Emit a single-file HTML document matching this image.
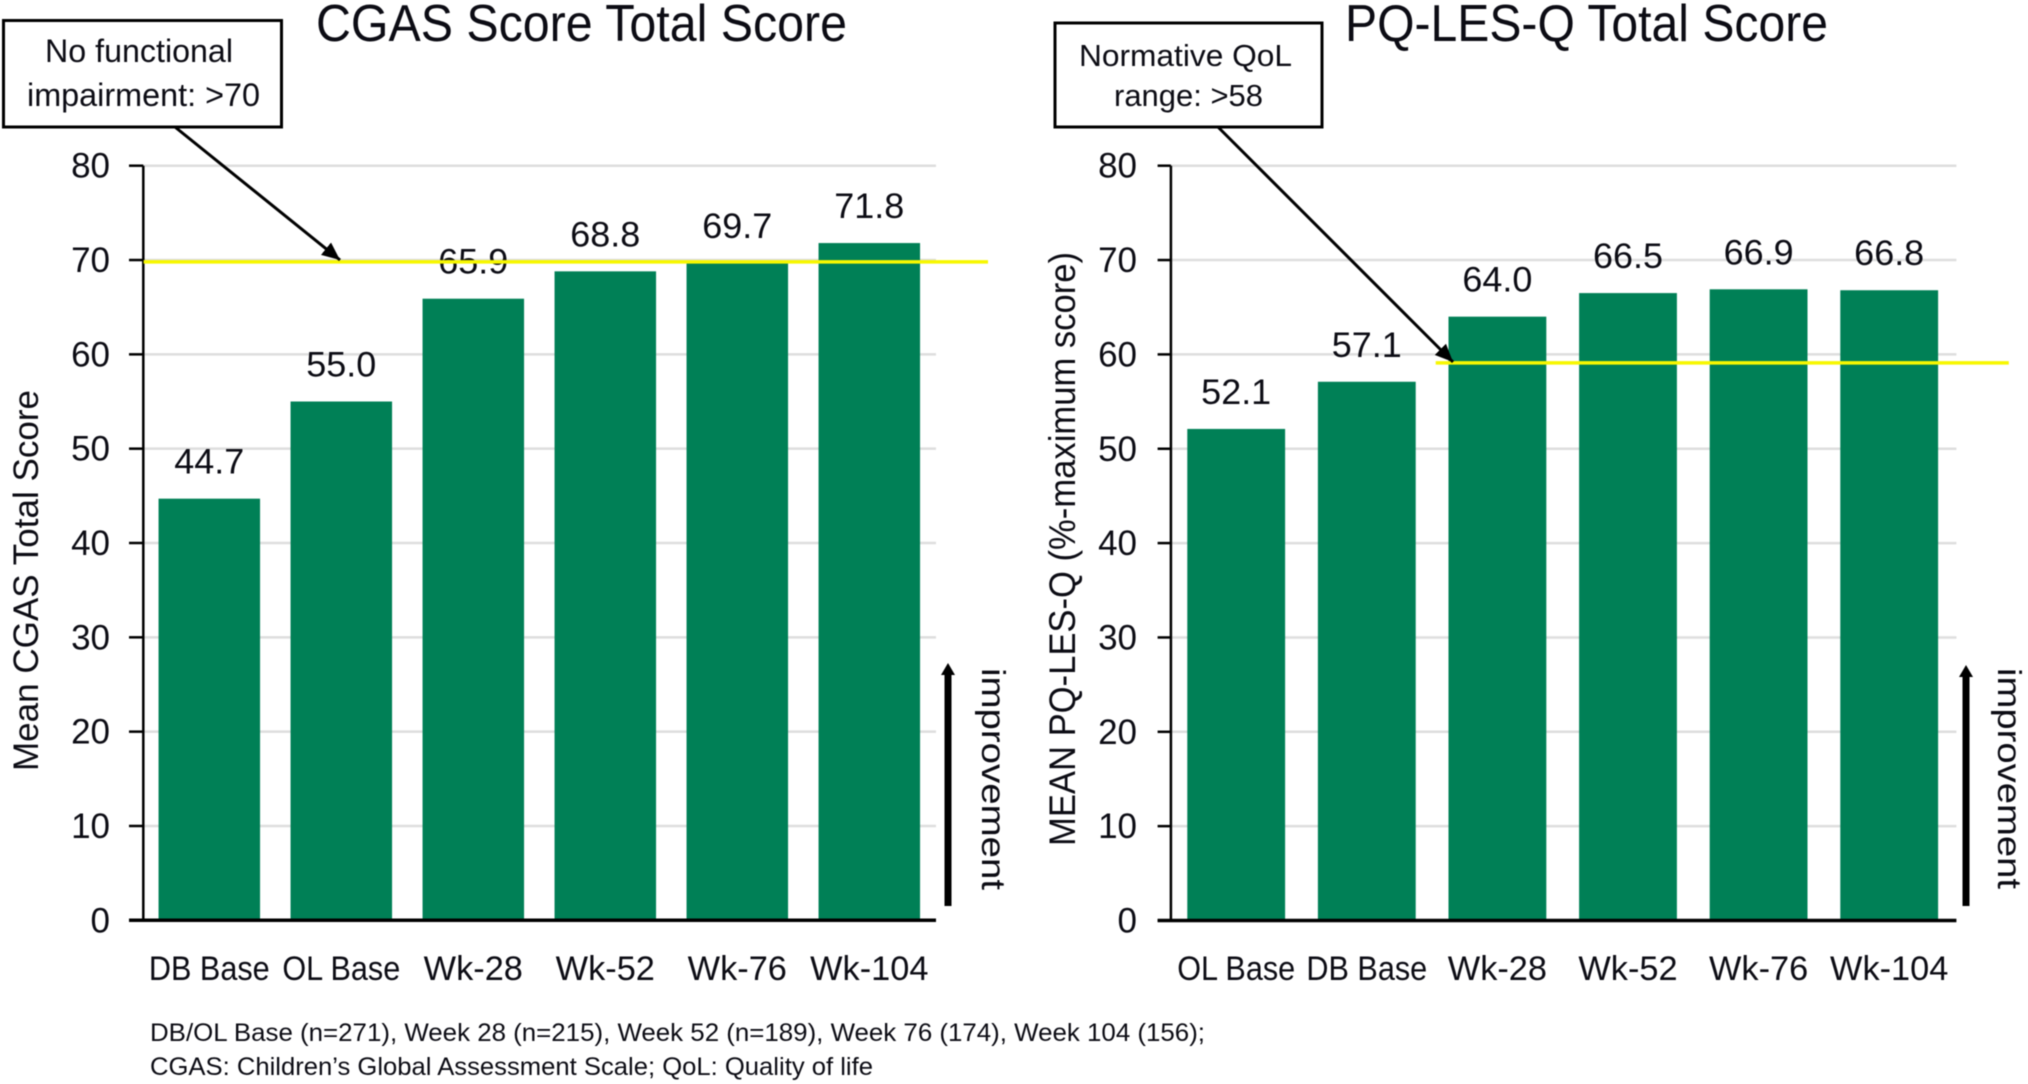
<!DOCTYPE html>
<html>
<head>
<meta charset="utf-8">
<title>CGAS and PQ-LES-Q Total Scores</title>
<style>
html,body{margin:0;padding:0;background:#fff;}
svg{display:block;font-family:"Liberation Sans",sans-serif;fill:#0c0c14;filter:blur(0.45px);}
</style>
</head>
<body>
<svg id="chart" xmlns="http://www.w3.org/2000/svg" width="2028" height="1084" viewBox="0 0 2028 1084">
<defs>
<marker id="head" markerUnits="userSpaceOnUse" markerWidth="20" markerHeight="18" refX="18" refY="9" orient="auto">
<polygon points="0,1 18,9 0,17" fill="#000"></polygon>
</marker>
</defs>
<g id="left-chart"></g>
<g id="right-chart"></g>

<text x="316" y="41" font-size="52" textLength="531" lengthAdjust="spacingAndGlyphs">CGAS Score Total Score</text>
<text x="1345" y="41" font-size="52" textLength="483" lengthAdjust="spacingAndGlyphs">PQ-LES-Q Total Score</text>

<text transform="translate(38,771) rotate(-90)" font-size="35" textLength="381" lengthAdjust="spacingAndGlyphs">Mean CGAS Total Score</text>
<text transform="translate(1075,846) rotate(-90)" font-size="37" textLength="594" lengthAdjust="spacingAndGlyphs">MEAN PQ-LES-Q (%-maximum score)</text>

<line x1="175" y1="127" x2="340" y2="260" stroke="#000" stroke-width="3" marker-end="url(#head)"></line>
<line x1="1218" y1="127" x2="1453" y2="362" stroke="#000" stroke-width="3" marker-end="url(#head)"></line>

<g>
<rect x="3.5" y="20.5" width="278" height="106.5" fill="#fff" stroke="#000" stroke-width="3"></rect>
<text x="45" y="62" font-size="32" textLength="188" lengthAdjust="spacingAndGlyphs">No functional</text>
<text x="27" y="106" font-size="32" textLength="233" lengthAdjust="spacingAndGlyphs">impairment: &gt;70</text>
</g>
<g>
<rect x="1055" y="23" width="267" height="104" fill="#fff" stroke="#000" stroke-width="3"></rect>
<text x="1079" y="66" font-size="31" textLength="213" lengthAdjust="spacingAndGlyphs">Normative QoL</text>
<text x="1114" y="106" font-size="31" textLength="149" lengthAdjust="spacingAndGlyphs">range: &gt;58</text>
</g>

<g>
<line x1="948" y1="906" x2="948" y2="672" stroke="#000" stroke-width="7"></line>
<polygon points="948,663 941,675 955,675" fill="#000"></polygon>
<text transform="translate(982,668) rotate(90)" font-size="33" textLength="222" lengthAdjust="spacingAndGlyphs">improvement</text>
</g>
<g>
<line x1="1966" y1="906" x2="1966" y2="674" stroke="#000" stroke-width="7"></line>
<polygon points="1966,665 1959,677 1973,677" fill="#000"></polygon>
<text transform="translate(1998,668) rotate(90)" font-size="33" textLength="221" lengthAdjust="spacingAndGlyphs">improvement</text>
</g>

<text x="150" y="1041" font-size="25" textLength="1055" lengthAdjust="spacingAndGlyphs">DB/OL Base (n=271), Week 28 (n=215), Week 52 (n=189), Week 76 (174), Week 104 (156);</text>
<text x="150" y="1075" font-size="25" textLength="723" lengthAdjust="spacingAndGlyphs">CGAS: Children’s Global Assessment Scale;  QoL: Quality of life</text>
</svg>

<script>
const yTicks = [0, 10, 20, 30, 40, 50, 60, 70, 80];
const cgasCategories = ['DB Base', 'OL Base', 'Wk-28', 'Wk-52', 'Wk-76', 'Wk-104'];
const cgasValues = [44.7, 55.0, 65.9, 68.8, 69.7, 71.8];
const cgasThreshold = 69.8;
const pqCategories = ['OL Base', 'DB Base', 'Wk-28', 'Wk-52', 'Wk-76', 'Wk-104'];
const pqValues = [52.1, 57.1, 64.0, 66.5, 66.9, 66.8];
const pqThreshold = 59.1;

const NS = 'http://www.w3.org/2000/svg';
const BAR_COLOR = '#008056';
const GRID_COLOR = '#dedede';
const YELLOW = '#f7f700';

function make(parent, tag, attrs, text) {
  const el = document.createElementNS(NS, tag);
  for (const k in attrs) el.setAttribute(k, attrs[k]);
  if (text !== undefined) el.textContent = text;
  parent.appendChild(el);
  return el;
}

function fitCategoryLabel(el, label) {
  const natural = el.getComputedTextLength();
  const scale = label.indexOf('Base') >= 0 ? 0.90 : 1.01;
  el.setAttribute('textLength', (natural * scale).toFixed(1));
  el.setAttribute('lengthAdjust', 'spacingAndGlyphs');
}

function drawChart(root, cfg) {
  const yScale = function (v) {
    return cfg.yZero - v * (cfg.yZero - cfg.yTop) / yTicks[yTicks.length - 1];
  };
  const pitch = (cfg.x1 - cfg.x0) / cfg.categories.length;
  const xScale = function (i) {
    return cfg.x0 + (i + 0.5) * pitch;
  };
  const barWidth = pitch * cfg.barRatio;

  yTicks.forEach(function (t) {
    if (t > 0) {
      const grid = make(root, 'line', {x1: cfg.x0, x2: cfg.gridEnd, y1: yScale(t), y2: yScale(t), stroke: GRID_COLOR, 'stroke-width': 2.5});
      
      
    }
  });

  cfg.values.forEach(function (v, i) {
    const bar = make(root, 'rect', {x: xScale(i) - barWidth / 2, y: yScale(v), width: barWidth, height: cfg.yZero - yScale(v), fill: BAR_COLOR});
    
    
  });

  const yAxis = make(root, 'line', {x1: cfg.x0, x2: cfg.x0, y1: yScale(80), y2: cfg.yZero, stroke: '#000', 'stroke-width': 2.5});
  
  

  const xAxis = make(root, 'line', {x1: cfg.tickStart, x2: cfg.gridEnd, y1: cfg.yZero, y2: cfg.yZero, stroke: '#000', 'stroke-width': 3.5});
  
  

  yTicks.forEach(function (t) {
    const tick = make(root, 'line', {x1: cfg.tickStart, x2: cfg.x0, y1: yScale(t), y2: yScale(t), stroke: '#000', 'stroke-width': 2.5});
    
    
    const label = make(root, 'text', {x: cfg.tickLabelX, y: yScale(t) + 12, 'font-size': 35, 'text-anchor': 'end'}, String(t));
    
    
  });

  cfg.categories.forEach(function (c, i) {
    const label = make(root, 'text', {x: xScale(i), y: 980, 'font-size': 34, 'text-anchor': 'middle'}, c);
    
    
    fitCategoryLabel(label, c);
  });

  cfg.values.forEach(function (v, i) {
    const label = make(root, 'text', {x: xScale(i), y: yScale(v) - 25, 'font-size': 35, 'text-anchor': 'middle', textLength: 70, lengthAdjust: 'spacingAndGlyphs'}, v.toFixed(1));
    
    
  });

  const thresholdLine = make(root, 'line', {x1: cfg.thresholdStart, x2: cfg.thresholdEnd, y1: yScale(cfg.threshold), y2: yScale(cfg.threshold), stroke: YELLOW, 'stroke-width': 3.5});
  
  
}

drawChart(document.getElementById('left-chart'), {
  categories: cgasCategories, values: cgasValues, threshold: cgasThreshold,
  x0: 143.3, x1: 935.3, gridEnd: 936, tickStart: 129, tickLabelX: 110,
  yZero: 920.3, yTop: 165.7, barRatio: 0.769, thresholdStart: 143.6, thresholdEnd: 988
});
drawChart(document.getElementById('right-chart'), {
  categories: pqCategories, values: pqValues, threshold: pqThreshold,
  x0: 1170.9, x1: 1954.5, gridEnd: 1956.4, tickStart: 1157.6, tickLabelX: 1137,
  yZero: 920.5, yTop: 165.7, barRatio: 0.749, thresholdStart: 1435.7, thresholdEnd: 2008.8
});
</script>
</body>
</html>
